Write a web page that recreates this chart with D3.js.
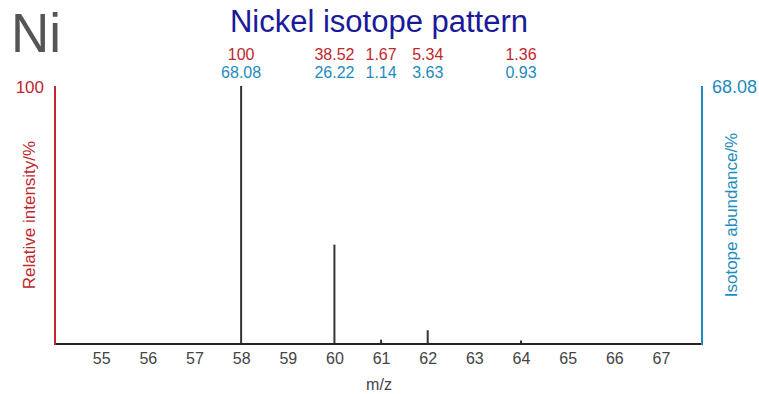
<!DOCTYPE html>
<html>
<head>
<meta charset="utf-8">
<script src="https://cdn.jsdelivr.net/npm/d3@7"></script>
<style>
  body { margin: 0; background: #fff; }
  svg { font-family: "Liberation Sans", Arial, sans-serif; }
</style>
</head>
<body>
<div id="chart"></div>
<script>
// isotope masses and intensities
const masses = [58, 60, 61, 62, 64];
const intensity = [100, 38.52, 1.67, 5.34, 1.36];
const abundance = [68.08, 26.22, 1.14, 3.63, 0.93];
const xTicks = [55, 56, 57, 58, 59, 60, 61, 62, 63, 64, 65, 66, 67];

const red = "#c0272d", blue = "#1d8bbd", grey = "#444";
const width = 759, height = 394;
const margin = { top: 86, right: 57, bottom: 50, left: 55 };

const svg = d3.select("#chart").append("svg")
    .attr("width", width)
    .attr("height", height);

const x = d3.scaleLinear()
    .domain([54.01, 67.88])
    .range([margin.left, width - margin.right]);

const y = d3.scaleLinear()
    .domain([0, 100])
    .range([height - margin.bottom, margin.top]);

const y0 = y(0);

// element symbol
svg.append("text")
    .attr("x", 11)
    .attr("y", 52)
    .attr("fill", "#555")
    .attr("font-size", 55)
    .attr("textLength", 50)
    .attr("lengthAdjust", "spacingAndGlyphs")
    .text("Ni");

// title
svg.append("text")
    .attr("x", 379)
    .attr("y", 32)
    .attr("text-anchor", "middle")
    .attr("fill", "#1a1a99")
    .attr("font-size", 31)
    .text("Nickel isotope pattern");

// peaks
svg.append("g").selectAll("line")
    .data(masses)
    .join("line")
    .attr("x1", d => x(d))
    .attr("x2", d => x(d))
    .attr("y1", y0)
    .attr("y2", (d, i) => y(intensity[i]))
    .attr("stroke", "#333")
    .attr("stroke-width", 2);

// value labels
svg.append("g").selectAll("text")
    .data(masses)
    .join("text")
    .attr("x", d => x(d))
    .attr("y", 60)
    .attr("text-anchor", "middle")
    .attr("fill", red)
    .attr("font-size", 16)
    .text((d, i) => intensity[i]);

svg.append("g").selectAll("text")
    .data(masses)
    .join("text")
    .attr("x", d => x(d))
    .attr("y", 78)
    .attr("text-anchor", "middle")
    .attr("fill", blue)
    .attr("font-size", 16)
    .text((d, i) => abundance[i].toFixed(2));

// x axis
const xAxis = svg.append("g")
    .attr("transform", `translate(0,${y0})`)
    .call(d3.axisBottom(x).tickValues(xTicks).tickSize(0).tickPadding(9));
xAxis.select(".domain").attr("stroke", "#222").attr("stroke-width", 2)
    .attr("d", `M${margin.left},0H${width - margin.right}`);
xAxis.selectAll("text")
    .attr("fill", grey)
    .attr("font-size", 16)
    .attr("font-family", "Liberation Sans, Arial, sans-serif");

svg.append("text")
    .attr("x", 379)
    .attr("y", 390)
    .attr("text-anchor", "middle")
    .attr("fill", grey)
    .attr("font-size", 16)
    .text("m/z");

// left axis
svg.append("line")
    .attr("x1", margin.left).attr("x2", margin.left)
    .attr("y1", y(100)).attr("y2", y0 + 1)
    .attr("stroke", red).attr("stroke-width", 2);

svg.append("text")
    .attr("x", 44)
    .attr("y", 93)
    .attr("text-anchor", "end")
    .attr("fill", red)
    .attr("font-size", 17)
    .text(intensity[0]);

svg.append("text")
    .attr("transform", `translate(35,${(y(100) + y0) / 2}) rotate(-90)`)
    .attr("text-anchor", "middle")
    .attr("fill", red)
    .attr("font-size", 17)
    .text("Relative intensity/%");

// right axis
const xr = width - margin.right;
svg.append("line")
    .attr("x1", xr).attr("x2", xr)
    .attr("y1", y(100)).attr("y2", y0 + 1)
    .attr("stroke", blue).attr("stroke-width", 2);

svg.append("text")
    .attr("x", 712)
    .attr("y", 93)
    .attr("fill", blue)
    .attr("font-size", 18)
    .text(abundance[0].toFixed(2));

svg.append("text")
    .attr("transform", `translate(737,${(y(100) + y0) / 2}) rotate(-90)`)
    .attr("text-anchor", "middle")
    .attr("fill", blue)
    .attr("font-size", 17)
    .text("Isotope abundance/%");
</script>
</body>
</html>
